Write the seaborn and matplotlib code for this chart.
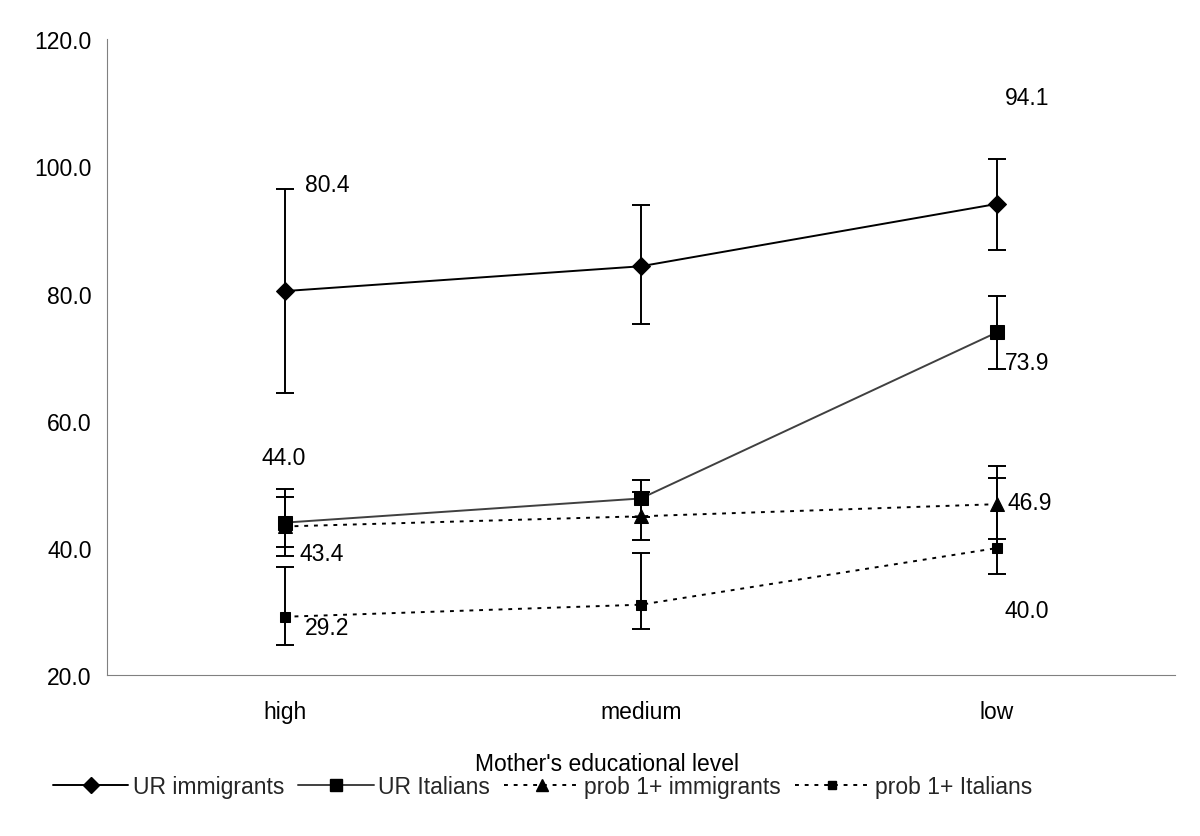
import matplotlib
matplotlib.use("Agg")
import matplotlib.pyplot as plt
import seaborn as sns
import pandas as pd

# Mother's educational level categories
levels = ["high", "medium", "low"]

# series values
ur_immigrants = [80.4, 84.3, 94.1]
ur_italians = [44.0, 47.8, 73.9]
prob_immigrants = [43.4, 45.0, 46.9]
prob_italians = [29.2, 31.1, 40.0]

# confidence bounds
ur_immigrants_lo = [64.3, 75.2, 86.8]
ur_immigrants_hi = [96.5, 93.9, 101.1]
ur_italians_lo = [38.8, 44.9, 68.1]
ur_italians_hi = [49.3, 50.7, 79.7]
prob_immigrants_lo = [40.1, 41.2, 41.5]
prob_immigrants_hi = [48.1, 48.8, 52.9]
prob_italians_lo = [24.7, 27.2, 35.9]
prob_italians_hi = [37.1, 39.2, 51.0]

y_ticks = [20.0, 40.0, 60.0, 80.0, 100.0, 120.0]

sns.set_style("white")
plt.rcParams['font.family'] = ['Liberation Sans', 'DejaVu Sans']
FS = 16.5

fig = plt.figure(figsize=(12, 8.37), dpi=100)
ax = fig.add_axes([0.089, 0.192, 0.890, 0.760])

series = [
    # name, values, lo, hi, marker, size, line colour, linestyle
    ("UR immigrants", ur_immigrants, ur_immigrants_lo, ur_immigrants_hi, "D", 9, "black", "-"),
    ("UR Italians", ur_italians, ur_italians_lo, ur_italians_hi, "s", 10.5, "#404040", "-"),
    ("prob 1+ immigrants", prob_immigrants, prob_immigrants_lo, prob_immigrants_hi, "^", 9.5, "black", (0, (2, 3))),
    ("prob 1+ Italians", prob_italians, prob_italians_lo, prob_italians_hi, "s", 7.5, "black", (0, (2, 3))),
]

x_pos = list(range(len(levels)))
handles = []
for name, vals, lo, hi, mk, ms, col, ls in series:
    df = pd.DataFrame({"x": x_pos, "y": vals})
    sns.lineplot(data=df, x="x", y="y", ax=ax, color=col, linestyle=ls, linewidth=1.4,
                 marker=mk, markersize=ms, markerfacecolor="black", markeredgecolor="black",
                 zorder=3)
    yerr = [[v - l for v, l in zip(vals, lo)], [h - v for v, h in zip(vals, hi)]]
    ax.errorbar(x_pos, vals, yerr=yerr, fmt="none", ecolor="black", elinewidth=1.4,
                capsize=6.5, capthick=1.4, zorder=2)
    handles.append(plt.Line2D([], [], color=col, linestyle=ls, linewidth=1.4, marker=mk,
                              markersize=ms * 0.85, markerfacecolor="black",
                              markeredgecolor="black", label=name))

# value labels (offsets in pixels from the point)
labels = [
    (0, ur_immigrants[0], 20, 107),
    (2, ur_immigrants[2], 8, 106),
    (0, ur_italians[0], -23, 65),
    (2, ur_italians[2], 8, -30),
    (0, prob_immigrants[0], 15, -27),
    (2, prob_immigrants[2], 11, 2),
    (0, prob_italians[0], 20, -11),
    (2, prob_italians[2], 8, -62),
]
for xi, v, dx, dy in labels:
    ax.annotate(f"{v:.1f}", (xi, v), xytext=(dx, dy), textcoords="offset pixels",
                ha="left", va="center", fontsize=FS, color="black", zorder=1)

ax.set_xlim(-0.5, 2.5)
ax.set_ylim(20, 120)
ax.set_yticks(y_ticks)
ax.set_yticklabels([f"{t:.1f}" for t in y_ticks])
ax.set_xticks(x_pos)
ax.set_xticklabels(levels)
ax.set_xticks([0.5, 1.5, 2.5], minor=True)
ax.tick_params(axis="x", which="major", length=0, pad=18, labelsize=FS, labelcolor="black")
ax.tick_params(axis="x", which="minor", length=6, width=0.8, color="#808080", direction="out")
ax.tick_params(axis="y", length=6, width=0.8, color="#808080", direction="out", pad=5,
               labelsize=FS, labelcolor="black")
ax.set_ylabel("")
ax.set_xlabel("Mother's educational level", fontsize=FS, color="black")
ax.xaxis.set_label_coords((607 - 107) / 1068, -0.12)

sns.despine(ax=ax)
for side in ["left", "bottom"]:
    ax.spines[side].set_color("#808080")
    ax.spines[side].set_linewidth(0.8)

fig.legend(handles=handles, loc="center", bbox_to_anchor=(0.452, 0.059), ncol=4,
           frameon=False, fontsize=FS, handlelength=3.3, handletextpad=0.2,
           columnspacing=0.6)

fig.savefig("out.png", dpi=100, facecolor="white")
